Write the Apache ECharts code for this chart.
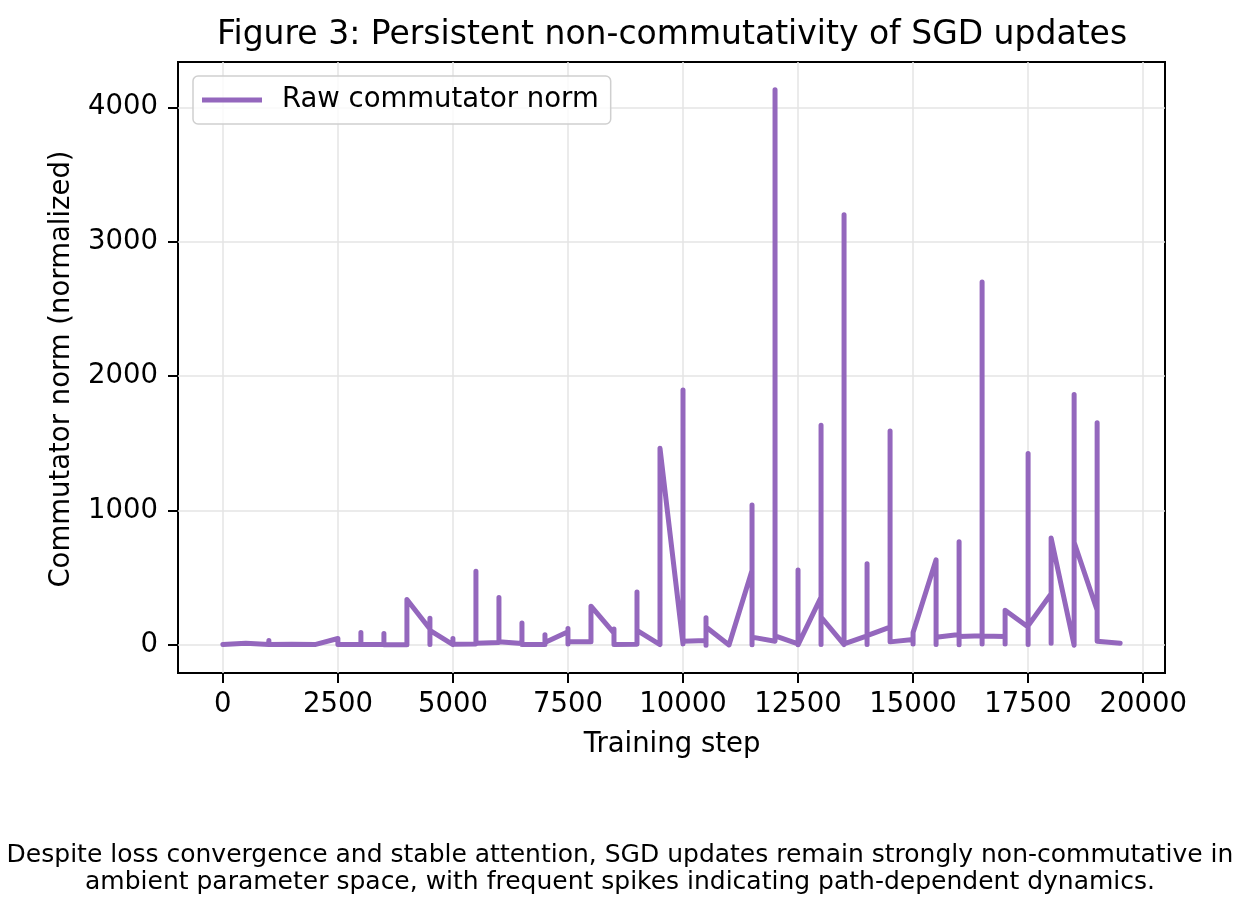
<!DOCTYPE html>
<html>
<head>
<meta charset="utf-8">
<script src="https://cdn.jsdelivr.net/npm/echarts@6/dist/echarts.min.js"></script>
<style>html,body{margin:0;padding:0;background:#fff}#c{width:1238px;height:914px}</style>
</head>
<body>
<div id="c"></div>
<script>
// Training steps (x) and the commutator norms recorded at each step, in drawing order
const steps = [0,500,1000,1500,2000,2500,3000,3500,4000,4500,5000,5500,6000,6500,7000,7500,8000,8500,9000,9500,
  10000,10500,11000,11500,12000,12500,13000,13500,14000,14500,15000,15500,16000,16500,17000,17500,18000,18500,19000,19500];
const normsAtStep = [
  [5],[15],[5,35,5],[8],[5,15],[50,5],[5,94,5],[5,87,3],[3,340],[120,200,5,110],
  [5,50,8],[10,550,15],[20,355,25],[12,165,5],[5,77,20],[100,125,10,25],[25,290],[90,120,5,10],[8,395,110],[5,1465],
  [10,1897,30],[35,205,0,135],[2],[556,1042,3,60],[30,4130,70],[10,560,3],[358,1635,5,210],[5,3200,10],[70,605,5,72],[135,1593,25],
  [42,10,95],[635,5,60],[80,770,3,65],[70,2700,10,68],[65,10,260],[136,1425,5,145],[383,15,798],[0,1865,766],[260,1655,30],[15]
];
const xTicks = [0,2500,5000,7500,10000,12500,15000,17500,20000];
const yTicks = [0,1000,2000,3000,4000];
const seriesName = 'Raw commutator norm';
const titleText = 'Figure 3: Persistent non-commutativity of SGD updates';
const xLabel = 'Training step';
const yLabel = 'Commutator norm (normalized)';
const captionLines = ['Despite loss convergence and stable attention, SGD updates remain strongly non-commutative in',
  'ambient parameter space, with frequent spikes indicating path-dependent dynamics.'];

const data = steps.flatMap((s, i) => normsAtStep[i].map(v => [s, v]));
const FONT = 'DejaVu Sans';
const chart = echarts.init(document.getElementById('c'));
const fmt = v => String(v);
chart.setOption({
  animation: false,
  backgroundColor: '#fff',
  textStyle: { fontFamily: FONT },
  grid: { left: 178, top: 62, width: 987, height: 611, show: true, borderColor: '#000', borderWidth: 2, containLabel: false },
  legend: {
    left: 193, top: 76, orient: 'vertical',
    itemWidth: 60, itemHeight: 5, itemGap: 0,
    padding: [10, 12, 10, 9],
    borderColor: '#cfcfcf', borderWidth: 1.5, borderRadius: 5,
    backgroundColor: 'rgba(255,255,255,0.8)',
    textStyle: { fontFamily: FONT, fontSize: 27.5, color: '#000', padding: [0, 0, 0, 15] },
    data: [{ name: seriesName, icon: 'rect' }]
  },
  xAxis: {
    type: 'value', min: -975, max: 20475,
    axisLine: { show: true, onZero: false, lineStyle: { color: '#000', width: 2 } },
    axisTick: { show: true, length: 10, lineStyle: { color: '#000', width: 2 }, customValues: xTicks },
    axisLabel: { customValues: xTicks, formatter: fmt, color: '#000', fontFamily: FONT, fontSize: 27.5, margin: 18 },
    splitLine: { show: false }
  },
  yAxis: {
    type: 'value', min: -206.5, max: 4336.5,
    axisLine: { show: true, onZero: false, lineStyle: { color: '#000', width: 2 } },
    axisTick: { show: true, length: 10, lineStyle: { color: '#000', width: 2 }, customValues: yTicks },
    axisLabel: { customValues: yTicks, formatter: fmt, color: '#000', fontFamily: FONT, fontSize: 27.5, margin: 20 },
    splitLine: { show: false }
  },
  series: [
    {
      name: '_grid', type: 'line', data: [], silent: true, z: 1,
      markLine: {
        silent: true, symbol: 'none', z: 1, label: { show: false },
        lineStyle: { color: '#e4e4e4', width: 1.5, type: 'solid' },
        data: xTicks.map(v => ({ xAxis: v })).concat(yTicks.map(v => ({ yAxis: v })))
      }
    },
    {
      name: seriesName, type: 'line', data: data, showSymbol: false, symbol: 'none', z: 10,
      lineStyle: { color: '#9467bd', width: 5, cap: 'round', join: 'round' },
      itemStyle: { color: '#9467bd' }
    }
  ],
  graphic: [
    { type: 'text', x: 672, y: 35, style: { text: titleText, font: '33px "DejaVu Sans"', fill: '#000', textAlign: 'center', textVerticalAlign: 'middle' } },
    { type: 'text', x: 672, y: 745, style: { text: xLabel, font: '27.5px "DejaVu Sans"', fill: '#000', textAlign: 'center', textVerticalAlign: 'middle' } },
    { type: 'text', x: 62, y: 369, rotation: Math.PI / 2, style: { text: yLabel, font: '27.5px "DejaVu Sans"', fill: '#000', textAlign: 'center', textVerticalAlign: 'middle' } },
    { type: 'text', x: 620, y: 855, style: { text: captionLines[0], font: '25px "DejaVu Sans"', fill: '#000', textAlign: 'center', textVerticalAlign: 'middle' } },
    { type: 'text', x: 620, y: 882, style: { text: captionLines[1], font: '25px "DejaVu Sans"', fill: '#000', textAlign: 'center', textVerticalAlign: 'middle' } }
  ]
});
</script>
</body>
</html>
